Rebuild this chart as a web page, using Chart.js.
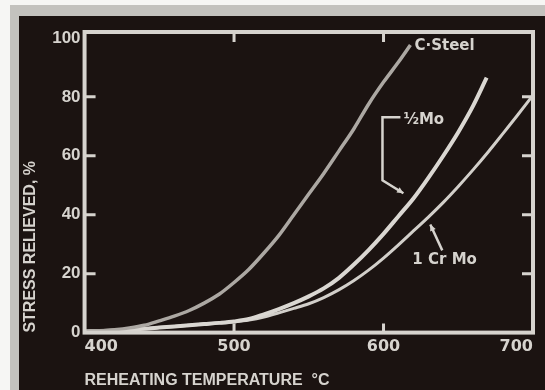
<!DOCTYPE html>
<html>
<head>
<meta charset="utf-8">
<script src="https://cdn.jsdelivr.net/npm/chart.js@4.4.1/dist/chart.umd.min.js"></script>
<style>
  html, body { margin: 0; padding: 0; }
  body { width: 545px; height: 390px; position: relative; overflow: hidden; background: #f6f6f4; }
  .mat { position: absolute; left: 10px; top: 5px; right: 0; bottom: 0; background: #c3c2be; }
  .slide { position: absolute; left: 19px; top: 16px; right: 0; bottom: 0; background: #1b1311; }
  #chart { position: absolute; left: 0; top: 0; }
</style>
</head>
<body>
<div class="mat"></div>
<div class="slide"></div>
<canvas id="chart" width="545" height="390"></canvas>
<script>
// values
const cSteelTemps = [400, 410, 420, 430, 440, 450, 460, 470, 480, 490, 500, 510, 520, 530, 540, 550, 560, 570, 580, 590, 600, 610, 618];
const cSteelValues = [0.4, 0.6, 1, 1.6, 2.5, 4, 5.6, 7.5, 10, 13, 17, 21.5, 27, 33, 40, 47, 54, 61.5, 69, 77.5, 85, 91.8, 97.6];

const halfMoTemps = [400, 410, 420, 430, 440, 450, 460, 470, 480, 490, 500, 510, 520, 530, 540, 550, 560, 570, 580, 590, 600, 610, 620, 630, 640, 650, 660, 669];
const halfMoValues = [0.4, 0.5, 0.7, 1, 1.3, 1.7, 2.1, 2.5, 2.9, 3.3, 3.8, 4.6, 6.2, 8, 10, 12.3, 15, 18.5, 23, 28, 33.5, 39.5, 45.5, 52.5, 60, 68, 77, 86.5];

const crMoTemps = [400, 410, 420, 430, 440, 450, 460, 470, 480, 490, 500, 510, 520, 530, 540, 550, 560, 570, 580, 590, 600, 610, 620, 630, 640, 650, 660, 670, 680, 690, 700];
const crMoValues = [0.4, 0.5, 0.7, 1, 1.3, 1.7, 2.1, 2.5, 2.9, 3.3, 3.7, 4.3, 5.3, 6.7, 8.2, 9.8, 11.9, 14.5, 17.6, 21.2, 25.3, 29.8, 34.5, 39.2, 44.2, 49.6, 55.3, 61.3, 67.6, 74, 80.6];

const xTicks = [400, 500, 600, 700];
const yTicks = [0, 20, 40, 60, 80, 100];

const ink = '#d6d3ce';

function toPoints(xs, ys) {
    return xs.map((x, i) => ({ x: x, y: ys[i] }));
}

// labels, bracket and arrow, placed in data units
const notes = [
    { text: 'C\u00b7Steel', x: 620.7, y: 97.3 },
    { text: '\u00bdMo', x: 613.3, y: 72.1 },
    { text: '1 Cr Mo', x: 619.3, y: 24.5 }
];
const bracketPath = [[611.3, 73.1], [599.3, 73.1], [599.3, 51.7], [613.3, 47.3]];
const crMoArrow = [[639.3, 27.9], [631.3, 36.7]];

function arrowHead(ctx, x0, y0, x1, y1, size) {
    const a = Math.atan2(y1 - y0, x1 - x0);
    ctx.beginPath();
    ctx.moveTo(x1, y1);
    ctx.lineTo(x1 - size * Math.cos(a - 0.45), y1 - size * Math.sin(a - 0.45));
    ctx.lineTo(x1 - size * Math.cos(a + 0.45), y1 - size * Math.sin(a + 0.45));
    ctx.closePath();
    ctx.fill();
}

const framePlugin = {
    id: 'frame',
    afterDatasetsDraw(chart) {
        const ctx = chart.ctx;
        const a = chart.chartArea;
        const xs = chart.scales.x;
        const ys = chart.scales.y;
        ctx.save();
        ctx.strokeStyle = ink;
        ctx.fillStyle = ink;
        ctx.lineWidth = 4;
        ctx.strokeRect(a.left, a.top, a.right - a.left, a.bottom - a.top);

        // inward ticks
        ctx.lineWidth = 3;
        ctx.beginPath();
        xTicks.slice(1, -1).forEach(v => {
            const px = xs.getPixelForValue(v);
            ctx.moveTo(px, a.bottom); ctx.lineTo(px, a.bottom - 9);
            ctx.moveTo(px, a.top); ctx.lineTo(px, a.top + 10);
        });
        yTicks.slice(1, -1).forEach(v => {
            const py = ys.getPixelForValue(v);
            ctx.moveTo(a.left, py); ctx.lineTo(a.left + 11, py);
            ctx.moveTo(a.right, py); ctx.lineTo(a.right - 11, py);
        });
        ctx.stroke();

        // annotations
        ctx.font = 'bold 15px "DejaVu Sans"';
        ctx.textAlign = 'left';
        ctx.textBaseline = 'middle';
        notes.forEach(n => {
            ctx.fillText(n.text, xs.getPixelForValue(n.x), ys.getPixelForValue(n.y));
        });

        ctx.lineWidth = 2.5;
        const bp = bracketPath.map(p => [xs.getPixelForValue(p[0]), ys.getPixelForValue(p[1])]);
        ctx.beginPath();
        bp.forEach((p, i) => i ? ctx.lineTo(p[0], p[1]) : ctx.moveTo(p[0], p[1]));
        ctx.stroke();
        const n = bp.length;
        arrowHead(ctx, bp[n - 2][0], bp[n - 2][1], bp[n - 1][0], bp[n - 1][1], 7);

        const ap = crMoArrow.map(p => [xs.getPixelForValue(p[0]), ys.getPixelForValue(p[1])]);
        ctx.beginPath();
        ctx.moveTo(ap[0][0], ap[0][1]);
        ctx.lineTo(ap[1][0], ap[1][1]);
        ctx.stroke();
        arrowHead(ctx, ap[0][0], ap[0][1], ap[1][0], ap[1][1], 7);
        ctx.restore();
    }
};

new Chart(document.getElementById('chart').getContext('2d'), {
    type: 'line',
    data: {
        datasets: [
            {
                label: 'C-Steel',
                data: toPoints(cSteelTemps, cSteelValues),
                borderColor: '#aca8a3',
                borderWidth: 3.5,
                pointRadius: 0,
                cubicInterpolationMode: 'monotone'
            },
            {
                label: '1/2 Mo',
                data: toPoints(halfMoTemps, halfMoValues),
                borderColor: '#dad7d2',
                borderWidth: 4,
                pointRadius: 0,
                cubicInterpolationMode: 'monotone'
            },
            {
                label: '1 Cr Mo',
                data: toPoints(crMoTemps, crMoValues),
                borderColor: '#d2cfca',
                borderWidth: 3,
                pointRadius: 0,
                cubicInterpolationMode: 'monotone'
            }
        ]
    },
    options: {
        responsive: false,
        animation: false,
        events: [],
        layout: { padding: { left: 21, right: 12, top: 32, bottom: 0 } },
        plugins: { legend: { display: false }, tooltip: { enabled: false } },
        scales: {
            x: {
                type: 'linear',
                min: 400,
                max: 700,
                grid: { display: false, drawTicks: false },
                border: { display: false },
                afterBuildTicks: axis => { axis.ticks = xTicks.map(v => ({ value: v })); },
                ticks: {
                    color: ink,
                    align: 'inner',
                    padding: 5,
                    maxRotation: 0,
                    font: { family: '"DejaVu Sans"', weight: 'bold', size: 16 }
                },
                title: {
                    display: true,
                    text: 'REHEATING TEMPERATURE  \u00b0C',
                    align: 'start',
                    color: ink,
                    padding: { top: 9, bottom: 0 },
                    font: { family: '"Liberation Sans"', weight: 'bold', size: 16 }
                }
            },
            y: {
                min: 0,
                max: 102,
                grid: { display: false, drawTicks: false },
                border: { display: false },
                afterBuildTicks: axis => { axis.ticks = yTicks.map(v => ({ value: v })); },
                ticks: {
                    color: ink,
                    padding: 4,
                    font: { family: '"Liberation Sans"', weight: 'bold', size: 17 }
                },
                title: {
                    display: true,
                    text: 'STRESS RELIEVED, %',
                    align: 'start',
                    color: ink,
                    padding: { top: 0, bottom: 8 },
                    font: { family: '"Liberation Sans"', weight: 'bold', size: 16 }
                }
            }
        }
    },
    plugins: [framePlugin]
});
</script>
</body>
</html>
